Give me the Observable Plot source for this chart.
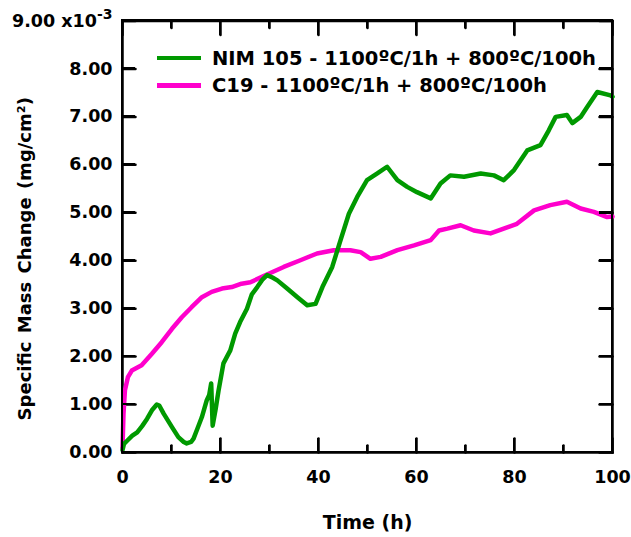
<!DOCTYPE html>
<html>
<head>
<meta charset="utf-8">
<script src="https://cdn.jsdelivr.net/npm/d3@7"></script>
<script src="https://cdn.jsdelivr.net/npm/@observablehq/plot@0.6"></script>
<style>
  html, body { margin: 0; padding: 0; background: #fff; }
  #wrap { position: relative; width: 631px; height: 537px; font-family: "DejaVu Sans", sans-serif; font-weight: bold; }
  #legend { position: absolute; left: 157px; top: 44.5px; font-size: 19.5px; line-height: 27.4px; color: #000; white-space: nowrap; }
  #legend .row { display: flex; align-items: center; }
  #legend .sw { display: inline-block; width: 44px; height: 4.5px; margin-right: 11px; }
  .hl { position: absolute; background: #000; pointer-events: none; }
  .fr { position: absolute; border: 2.5px solid #000; box-sizing: border-box; pointer-events: none; }
</style>
</head>
<body>
<div id="wrap"><div id="chart"></div><div id="overlay"></div><div id="legend"></div></div>
<script>
// ---- data ----
const seriesNames = ["NIM 105 - 1100ºC/1h + 800ºC/100h", "C19 - 1100ºC/1h + 800ºC/100h"];
const seriesColors = ["#009900", "#ff00cc"];

const nimTime = [0, 0.3, 1, 2, 3, 4, 5, 6, 7, 7.5, 8.4, 10.1, 11.4, 12.5, 13.1, 14, 14.5, 15.3, 16.2, 17.2, 17.7, 18.1, 18.4, 19, 19.6, 20.6, 22, 23, 24, 25.4, 26.4, 27.5, 28.5, 29.5, 30.6, 31.6, 33.6, 35.7, 37.7, 39.4, 40.8, 42.8, 44.5, 46.2, 47.9, 49.9, 52, 54, 56.1, 58.1, 60.1, 62.9, 64.9, 66.9, 69.7, 73.1, 75.8, 77.8, 79.9, 82.6, 85.3, 87, 88.4, 90.7, 91.8, 93.5, 94.8, 96.9, 99.6, 100];
const nimMass = [0.05, 0.18, 0.25, 0.35, 0.42, 0.55, 0.7, 0.88, 1.0, 0.98, 0.81, 0.53, 0.32, 0.22, 0.19, 0.22, 0.29, 0.5, 0.74, 1.09, 1.2, 1.44, 0.56, 0.9, 1.29, 1.86, 2.13, 2.48, 2.72, 3.0, 3.3, 3.45, 3.6, 3.7, 3.65, 3.59, 3.42, 3.24, 3.07, 3.1, 3.45, 3.87, 4.43, 4.98, 5.33, 5.68, 5.82, 5.96, 5.68, 5.54, 5.43, 5.3, 5.61, 5.78, 5.75, 5.82, 5.78, 5.68, 5.89, 6.3, 6.41, 6.72, 7.0, 7.04, 6.87, 7.0, 7.2, 7.52, 7.45, 7.42];

const c19Time = [0, 0.2, 0.5, 1.1, 1.9, 3.9, 6, 8, 10.1, 12.1, 14.1, 16.2, 18.2, 20.3, 22.3, 24.3, 26.1, 28.8, 32.9, 36.3, 39.7, 43.1, 46.5, 48.6, 50.6, 52.7, 56.1, 59.5, 62.9, 64.6, 66.3, 69, 71.7, 75.1, 77.8, 80.5, 84, 87.3, 90.7, 93.5, 96.2, 98.9, 100];
const c19Mass = [0.1, 0.8, 1.3, 1.57, 1.71, 1.82, 2.06, 2.3, 2.58, 2.82, 3.03, 3.24, 3.35, 3.42, 3.45, 3.52, 3.55, 3.68, 3.87, 4.01, 4.15, 4.22, 4.22, 4.18, 4.04, 4.08, 4.22, 4.32, 4.43, 4.63, 4.67, 4.74, 4.63, 4.57, 4.67, 4.77, 5.05, 5.16, 5.23, 5.09, 5.02, 4.91, 4.92];

const yTicks = [0, 1, 2, 3, 4, 5, 6, 7, 8, 9];
const xMajor = [0, 20, 40, 60, 80, 100];
const xMinor = [10, 30, 50, 70, 90];
const xDomain = [0, 100];
const yDomain = [0, 9];
const xLabel = "Time (h)";
const yLabel = "Specific Mass Change (mg/cm²)";

const nim = nimTime.map((t, i) => ({t, v: nimMass[i]}));
const c19 = c19Time.map((t, i) => ({t, v: c19Mass[i]}));

const majorLen = 14, minorLen = 7, yLen = 13, lw = 2.5;
// straight tick shape for vector marks
const tickShape = {draw(context, l) { context.moveTo(0, 0); context.lineTo(0, -l); }};

const chart = Plot.plot({
  width: 631,
  height: 537,
  marginLeft: 122,
  marginRight: 19,
  marginTop: 20.5,
  marginBottom: 85,
  style: {fontFamily: "DejaVu Sans, sans-serif", fontWeight: "bold", fontSize: "17.5px", color: "#000", background: "#fff"},
  x: {domain: xDomain},
  y: {domain: yDomain},
  marks: [
    Plot.frame({stroke: "#000", strokeWidth: lw}),
    Plot.vectorY(yTicks, {frameAnchor: "left", rotate: 90, length: yLen, shape: tickShape, anchor: "start", stroke: "#000", strokeWidth: lw}),
    Plot.vectorY(yTicks, {frameAnchor: "right", rotate: -90, length: yLen, shape: tickShape, anchor: "start", stroke: "#000", strokeWidth: lw}),
    Plot.vectorX(xMajor, {frameAnchor: "bottom", rotate: 0, length: majorLen, shape: tickShape, anchor: "start", stroke: "#000", strokeWidth: lw}),
    Plot.vectorX(xMinor, {frameAnchor: "bottom", rotate: 0, length: minorLen, shape: tickShape, anchor: "start", stroke: "#000", strokeWidth: lw}),
    Plot.vectorX(xMajor, {frameAnchor: "top", rotate: 180, length: majorLen, shape: tickShape, anchor: "start", stroke: "#000", strokeWidth: lw}),
    Plot.vectorX(xMinor, {frameAnchor: "top", rotate: 180, length: minorLen, shape: tickShape, anchor: "start", stroke: "#000", strokeWidth: lw}),
    Plot.axisY(yTicks, {anchor: "left", tickSize: 0, tickPadding: 10, label: null,
      tickFormat: d => d === 9 ? "9.00 x10" : d.toFixed(2)}),
    Plot.axisX(xMajor, {anchor: "bottom", tickSize: 0, tickPadding: 18, label: null, tickFormat: d => String(d)}),
    Plot.line(c19, {x: "t", y: "v", stroke: seriesColors[1], strokeWidth: 4.5}),
    Plot.line(nim, {x: "t", y: "v", stroke: seriesColors[0], strokeWidth: 4.5}),
    Plot.text([yLabel], {frameAnchor: "left", dx: -97, dy: 22, rotate: -90, textAnchor: "middle", lineAnchor: "middle", text: d => d, fontSize: 18}),
    Plot.text([xLabel], {frameAnchor: "bottom", dy: 70, textAnchor: "middle", lineAnchor: "middle", text: d => d, fontSize: 19})
  ]
});

document.getElementById("chart").appendChild(chart);

// superscript exponent on the top y tick label; slightly wider word spacing on the y title
d3.select(chart).selectAll("text").each(function() {
  if (this.textContent === "9.00 x10") {
    d3.select(this).append("tspan").attr("dy", "-0.55em").attr("font-size", "14px").text("-3");
  } else if (this.textContent === yLabel) {
    d3.select(this).style("word-spacing", "2px");
  }
});

// frame and inward ticks, positioned through the chart's own scales
const sx = chart.scale("x"), sy = chart.scale("y");
const x0 = sx.apply(xDomain[0]), x1 = sx.apply(xDomain[1]);
const y0 = sy.apply(yDomain[0]), y1 = sy.apply(yDomain[1]);
const ov = d3.select("#overlay");
ov.append("div").attr("class", "fr")
  .style("left", (x0 - lw / 2) + "px").style("top", (y1 - lw / 2) + "px")
  .style("width", (x1 - x0 + lw) + "px").style("height", (y0 - y1 + lw) + "px");
const hl = (l, t, w, h) => ov.append("div").attr("class", "hl")
  .style("left", l + "px").style("top", t + "px").style("width", w + "px").style("height", h + "px");
yTicks.forEach(v => {
  const y = sy.apply(v);
  hl(x0, y - lw / 2, yLen, lw);
  hl(x1 - yLen, y - lw / 2, yLen, lw);
});
xMajor.forEach(v => {
  const x = sx.apply(v);
  hl(x - lw / 2, y0 - majorLen, lw, majorLen);
  hl(x - lw / 2, y1, lw, majorLen);
});
xMinor.forEach(v => {
  const x = sx.apply(v);
  hl(x - lw / 2, y0 - minorLen, lw, minorLen);
  hl(x - lw / 2, y1, lw, minorLen);
});

// legend
const legend = d3.select("#legend");
seriesNames.forEach((name, i) => {
  const row = legend.append("div").attr("class", "row");
  row.append("span").attr("class", "sw").style("background", seriesColors[i]);
  row.append("span").text(name);
});
</script>
</body>
</html>
